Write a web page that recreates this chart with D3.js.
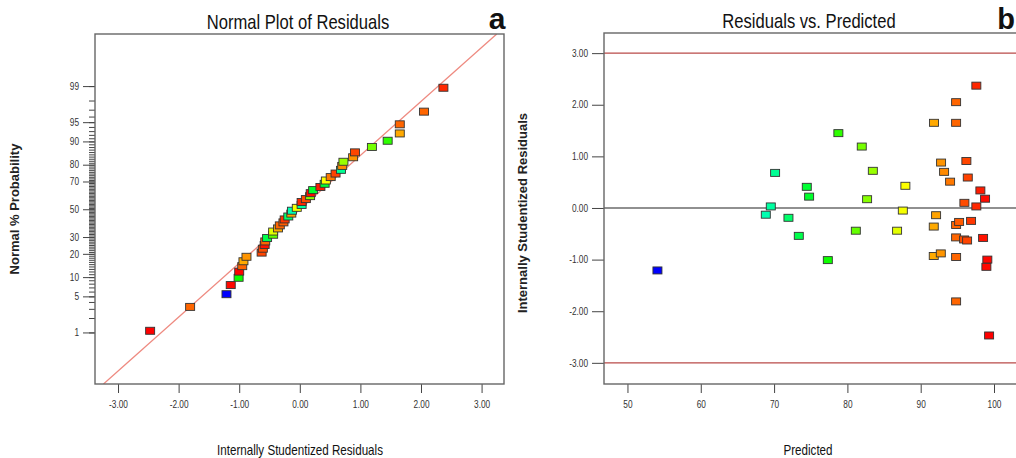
<!DOCTYPE html>
<html><head><meta charset="utf-8">
<script src="https://cdn.jsdelivr.net/npm/d3@7"></script>
<style>
body{margin:0;background:#fff;}
svg{display:block;}
text{font-family:"Liberation Sans",Arial,sans-serif;}
.ax text{font-size:10px;fill:#333;}
.ax line{stroke:#444;}
.ax path{display:none;}
</style></head><body>
<svg id="c" width="1016" height="458"></svg>
<script>
// ---- data ----
const predicted = [54.09,70.14,69.55,68.87,71.96,73.37,74.46,74.78,77.33,78.77,81.96,81.15,83.47,82.69,87.91,87.56,86.78,91.82,92.10,91.78,91.78,92.74,92.78,93.19,94.01,94.83,94.83,94.83,95.24,94.83,95.92,96.33,94.83,94.83,96.23,96.42,95.96,96.87,97.59,97.59,98.14,98.78,98.51,99.09,98.96,99.33];
const residual  = [-1.21,0.68,0.03,-0.13,-0.19,-0.54,0.41,0.22,-1.01,1.45,1.19,-0.44,0.72,0.17,0.43,-0.05,-0.44,1.65,-0.14,-0.36,-0.93,-0.88,0.88,0.70,0.51,2.05,1.65,-0.33,-0.27,-0.57,-0.61,-0.63,-0.95,-1.81,0.91,0.59,0.10,-0.25,2.37,0.03,0.34,0.18,-0.58,-1.00,-1.14,-2.47];
const residualTicks  = [-3,-2,-1,0,1,2,3];
const probTicks      = [1,5,10,20,30,50,70,80,90,95,99];
const predictedTicks = [50,60,70,80,90,100];
const limitLines     = [-3,3];
const fitLineResidual = [-3.24,3.25];
const fitLineZ        = [-3.30,3.31];

function probit(p){
 const a=[-3.969683028665376e+01,2.209460984245205e+02,-2.759285104469687e+02,1.383577518672690e+02,-3.066479806614716e+01,2.506628277459239e+00];
 const b=[-5.447609879822406e+01,1.615858368580409e+02,-1.556989798598866e+02,6.680131188771972e+01,-1.328068155288572e+01];
 const c=[-7.784894002430293e-03,-3.223964580411365e-01,-2.400758277161838e+00,-2.549732539343734e+00,4.374664141464968e+00,2.938163982698783e+00];
 const d=[7.784695709041462e-03,3.224671290700398e-01,2.445134137142996e+00,3.754408661907416e+00];
 const pl=0.02425, ph=1-pl; let q,r;
 if(p<pl){q=Math.sqrt(-2*Math.log(p));return (((((c[0]*q+c[1])*q+c[2])*q+c[3])*q+c[4])*q+c[5])/((((d[0]*q+d[1])*q+d[2])*q+d[3])*q+1);}
 if(p<=ph){q=p-0.5;r=q*q;return (((((a[0]*r+a[1])*r+a[2])*r+a[3])*r+a[4])*r+a[5])*q/(((((b[0]*r+b[1])*r+b[2])*r+b[3])*r+b[4])*r+1);}
 q=Math.sqrt(-2*Math.log(1-p));return -(((((c[0]*q+c[1])*q+c[2])*q+c[3])*q+c[4])*q+c[5])/((((d[0]*q+d[1])*q+d[2])*q+d[3])*q+1);
}

// horizontally condense text (stand-in for Arial Narrow)
const NARROW = 0.83;
function narrow(sel){
  sel.each(function(){
    const t=d3.select(this);
    const x=+(t.attr("x")||0);
    t.attr("x",x/NARROW).attr("transform",`scale(${NARROW},1)`);
  });
}

const svg = d3.select("#c");
const pts = predicted.map((p,i)=>({pred:p,res:residual[i]}));
const hue = d3.scaleLinear().domain(d3.extent(predicted)).range([240,0]);
const col = d => d3.hsl(hue(d.pred),1,0.5).formatHex();
const W=9,H=7;

// ---------- Panel a ----------
const L={x0:95,x1:504,y0:34,y1:384};
const xL = d3.scaleLinear().domain([-3.38,3.37]).range([L.x0,L.x1]);
const yL = d3.scaleLinear().domain([-3.30,3.31]).range([L.y1,L.y0]);
const gA = svg.append("g");
gA.append("defs").append("clipPath").attr("id","clipA").append("rect")
  .attr("x",L.x0).attr("y",L.y0).attr("width",L.x1-L.x0).attr("height",L.y1-L.y0);

gA.append("g").attr("class","ax").attr("transform",`translate(0,${L.y1})`)
  .call(d3.axisBottom(xL).tickValues(residualTicks).tickSize(9).tickPadding(8).tickFormat(d=>d.toFixed(2)))
  .selectAll("text").call(narrow);
gA.append("g").attr("class","ax").attr("transform",`translate(${L.x0},0)`)
  .call(d3.axisLeft(yL).tickValues(d3.range(1,100).map(p=>probit(p/100))).tickSize(6).tickFormat(""));
gA.append("g").attr("class","ax").attr("transform",`translate(${L.x0},0)`)
  .call(d3.axisLeft(yL).tickValues(probTicks.map(p=>probit(p/100))).tickSize(12).tickPadding(4).tickFormat((d,i)=>probTicks[i]))
  .selectAll("text").call(narrow);

gA.append("line").attr("clip-path","url(#clipA)")
  .attr("x1",xL(fitLineResidual[0])).attr("y1",yL(fitLineZ[0]))
  .attr("x2",xL(fitLineResidual[1])).attr("y2",yL(fitLineZ[1]))
  .attr("stroke","#ee8a80").attr("stroke-width",1.3);

const sorted = d3.sort(pts,d=>d.res);
const n = sorted.length;
gA.append("g").selectAll("rect").data(sorted).join("rect")
  .attr("x",d=>xL(d.res)-W/2)
  .attr("y",(d,i)=>yL(probit((i+0.5)/n))-H/2)
  .attr("width",W).attr("height",H)
  .attr("fill",col).attr("stroke","#333").attr("stroke-width",0.9);

gA.append("rect").attr("x",L.x0).attr("y",L.y0).attr("width",L.x1-L.x0).attr("height",L.y1-L.y0)
  .attr("fill","none").attr("stroke","#666").attr("stroke-width",1.4);

gA.append("text").attr("x",298).attr("y",29).attr("text-anchor","middle")
  .attr("font-size",20).attr("fill","#111").text("Normal Plot of Residuals").call(narrow);
gA.append("text").attr("x",497).attr("y",29).attr("text-anchor","middle")
  .attr("font-weight","bold").attr("font-size",30).attr("fill","#111").text("a");
gA.append("text").attr("x",300).attr("y",455).attr("text-anchor","middle")
  .attr("font-size",14).attr("fill","#111").text("Internally Studentized Residuals").call(narrow);
gA.append("text").attr("transform","translate(19,209) rotate(-90)").attr("text-anchor","middle")
  .attr("font-weight","bold").attr("font-size",13).attr("fill","#222").text("Normal % Probability");

// ---------- Panel b ----------
const R={x0:604,x1:1038,y0:33,y1:384};
const xR = d3.scaleLinear().domain([46.8,106]).range([R.x0,R.x1]);
const yR = d3.scaleLinear().domain([-3.41,3.39]).range([R.y1,R.y0]);
const gB = svg.append("g");

gB.append("g").attr("class","ax").attr("transform",`translate(0,${R.y1})`)
  .call(d3.axisBottom(xR).tickValues(predictedTicks).tickSize(9).tickPadding(8).tickFormat(d=>d))
  .selectAll("text").call(narrow);
gB.append("g").attr("class","ax").attr("transform",`translate(${R.x0},0)`)
  .call(d3.axisLeft(yR).tickValues(residualTicks).tickSize(12).tickPadding(4).tickFormat(d=>d.toFixed(2)))
  .selectAll("text").call(narrow);

gB.selectAll("line.lim").data(limitLines).join("line").attr("class","lim")
  .attr("x1",R.x0).attr("x2",R.x1).attr("y1",d=>yR(d)).attr("y2",d=>yR(d))
  .attr("stroke","#b94a48").attr("stroke-width",1.1);
gB.append("line").attr("x1",R.x0).attr("x2",R.x1).attr("y1",yR(0)).attr("y2",yR(0))
  .attr("stroke","#222").attr("stroke-width",1.1);

gB.append("g").selectAll("rect").data(pts).join("rect")
  .attr("x",d=>xR(d.pred)-W/2).attr("y",d=>yR(d.res)-H/2)
  .attr("width",W).attr("height",H)
  .attr("fill",col).attr("stroke","#333").attr("stroke-width",0.9);

gB.append("rect").attr("x",R.x0).attr("y",R.y0).attr("width",R.x1-R.x0).attr("height",R.y1-R.y0)
  .attr("fill","none").attr("stroke","#666").attr("stroke-width",1.4);

gB.append("text").attr("x",809).attr("y",28).attr("text-anchor","middle")
  .attr("font-size",20).attr("fill","#111").text("Residuals vs. Predicted").call(narrow);
gB.append("text").attr("x",1015).attr("y",29).attr("text-anchor","end")
  .attr("font-weight","bold").attr("font-size",29).attr("fill","#111").text("b");
gB.append("text").attr("x",808).attr("y",455).attr("text-anchor","middle")
  .attr("font-size",14).attr("fill","#111").text("Predicted").call(narrow);
gB.append("text").attr("transform","translate(527,213) rotate(-90)").attr("text-anchor","middle")
  .attr("font-weight","bold").attr("font-size",13).attr("fill","#222").text("Internally Studentized Residuals");
</script>
</body></html>
